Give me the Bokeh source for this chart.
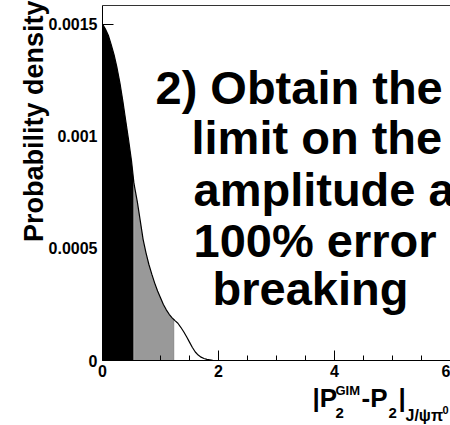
import numpy as np
from bokeh.plotting import figure
from bokeh.models import Range1d, FixedTicker
from bokeh.core.properties import value
from bokeh.embed import file_html
from bokeh.resources import INLINE

# ---------------- data ----------------
x_vals = [0.00, 0.05, 0.10, 0.15, 0.20, 0.25, 0.30, 0.35, 0.40, 0.45, 0.50,
          0.54, 0.55, 0.60, 0.65, 0.70, 0.75, 0.80, 0.85, 0.90, 0.95, 1.00,
          1.05, 1.10, 1.15, 1.20, 1.23, 1.25, 1.30, 1.35, 1.40, 1.45, 1.50,
          1.55, 1.60, 1.65, 1.70, 1.75, 1.80, 1.85, 1.90, 1.95, 2.00, 6.00]
density = [0.001500, 0.001478, 0.001450, 0.001408, 0.001362, 0.001305, 0.001238,
           0.001158, 0.001070, 0.000982, 0.000890, 0.000795, 0.000778, 0.000708,
           0.000625, 0.000540, 0.000480, 0.000428, 0.000385, 0.000345, 0.000310,
           0.000280, 0.000250, 0.000226, 0.000206, 0.000190, 0.000183, 0.000178,
           0.000166, 0.000148, 0.000128, 0.000106, 0.000082, 0.000058, 0.000038,
           0.000024, 0.000015, 0.000009, 0.000005, 0.000003, 0.000001, 0.0, 0.0, 0.0]
limit_inner = 0.54     # black band upper edge
limit_outer = 1.23     # grey band upper edge

x_ticks = [0, 2, 4, 6]
x_tick_labels = ["0", "2", "4", "6"]
x_minor = [0.5, 1.0, 1.5, 2.5, 3.0, 3.5, 4.5, 5.0, 5.5]
y_ticks = [0, 0.0005, 0.001, 0.0015]
y_tick_labels = ["0", "0.0005", "0.001", "0.0015"]

text_lines = ["2) Obtain the", "limit on the", "amplitude a", "100% error", "breaking"]
y_title = "Probability density"
x_title_parts = ["|P", "GIM", "2", "-P", "2", "|", "J/ψπ", "0"]

# ---------------- layout constants (canvas pixels) ----------------
W, H = 450, 425
L, T, B = 102, 5, 360  # plot-box left / top / bottom in canvas pixels
X_END = 6.0
PXX = (W - L) / X_END
PXY = (B - 23.5) / 0.0015
Y_END = (B - T) / PXY
MID = 0.3465           # baseline -> middle offset, in em

def dx(px):
    return (px - L) / PXX

def dy(py):
    return (B - py) / PXY

FONT = "Liberation Sans"

p = figure(width=W, height=H, title=None, output_backend="svg",
           toolbar_location=None,
           x_range=Range1d(dx(0), dx(W)), y_range=Range1d(dy(H), dy(0)),
           min_border=0, min_border_left=0, min_border_right=0,
           min_border_top=0, min_border_bottom=0)
p.outline_line_color = None
p.background_fill_color = "white"
p.border_fill_color = "white"
p.xgrid.visible = False
p.ygrid.visible = False

xa = np.array(x_vals)
ya = np.array(density)
m1 = xa <= limit_inner
m2 = (xa >= limit_inner) & (xa <= limit_outer)
p.varea(x=xa[m1], y1=0, y2=ya[m1], fill_color="black")
p.varea(x=xa[m2], y1=0, y2=ya[m2], fill_color="#999999")
i1 = x_vals.index(limit_inner)
i2 = x_vals.index(limit_outer)
p.segment(x0=[limit_inner], y0=[0], x1=[limit_inner], y1=[density[i1]],
          line_color="#cccccc", line_dash="1 1", line_width=1)
p.segment(x0=[limit_outer], y0=[0], x1=[limit_outer], y1=[density[i2]],
          line_color="#666666", line_dash="1 1", line_width=1)
p.line(xa, ya, line_color="black", line_width=1.2)

# top edge of the plot box
p.segment(x0=[0], y0=[Y_END], x1=[X_END], y1=[Y_END], line_color="#333333", line_width=1)

# axes, pinned at the data origin
p.xaxis.fixed_location = 0
p.yaxis.fixed_location = 0
p.xaxis.bounds = (0, X_END)
p.yaxis.bounds = (0, Y_END)
for ax in (p.xaxis[0], p.yaxis[0]):
    ax.axis_line_color = "black"
    ax.axis_line_width = 1
    ax.major_tick_line_color = "black"
    ax.minor_tick_line_color = "black"
    ax.major_tick_out = 0
    ax.minor_tick_out = 0
    ax.major_label_text_font = FONT
    ax.major_label_text_font_style = "bold"
    ax.major_label_text_font_size = "16px"
    ax.major_label_text_color = "black"

p.xaxis.ticker = FixedTicker(ticks=x_ticks, minor_ticks=x_minor)
p.xaxis.major_label_overrides = {t: s for t, s in zip(x_ticks, x_tick_labels)}
p.xaxis.major_tick_in = 10
p.xaxis.minor_tick_in = 5
p.xaxis.major_label_standoff = 4

p.yaxis.ticker = FixedTicker(ticks=y_ticks, minor_ticks=[])
p.yaxis.major_label_overrides = {t: s for t, s in zip(y_ticks, y_tick_labels)}
p.yaxis.major_tick_in = 11
p.yaxis.minor_tick_in = 0
p.yaxis.major_label_standoff = 5

def put(txt, px, py, fs, angle=0.0, align="left"):
    """Place text whose alphabetic baseline starts at canvas pixel (px, py)."""
    if angle:
        ax_, ay_ = px - MID * fs, py
    else:
        ax_, ay_ = px, py - MID * fs
    p.text(x=[dx(ax_)], y=[dy(ay_)], text=[txt], angle=angle,
           text_align=align, text_baseline="middle", text_font=value(FONT),
           text_font_style="bold", text_font_size=f"{fs}px", text_color="black")

# big annotation text
line_px = [155, 191, 193, 193, 212]
line_py = [103, 153, 205, 256, 304]
for txt, px, py in zip(text_lines, line_px, line_py):
    put(txt, px, py, 47)

# y title (reads bottom to top, ends near the top edge)
put(y_title, 43, 0, 27, angle=np.pi / 2, align="right")

# x title pieces
pieces_x = [312, 335, 335, 361, 388, 398, 405, 442]
pieces_y = [407, 395, 418, 407, 418, 407, 421, 413]
pieces_fs = [26, 13, 15, 26, 15, 26, 16, 11]
for txt, px, py, fs in zip(x_title_parts, pieces_x, pieces_y, pieces_fs):
    put(txt, px, py, fs)

open("out.html", "w").write(file_html(p, INLINE))
